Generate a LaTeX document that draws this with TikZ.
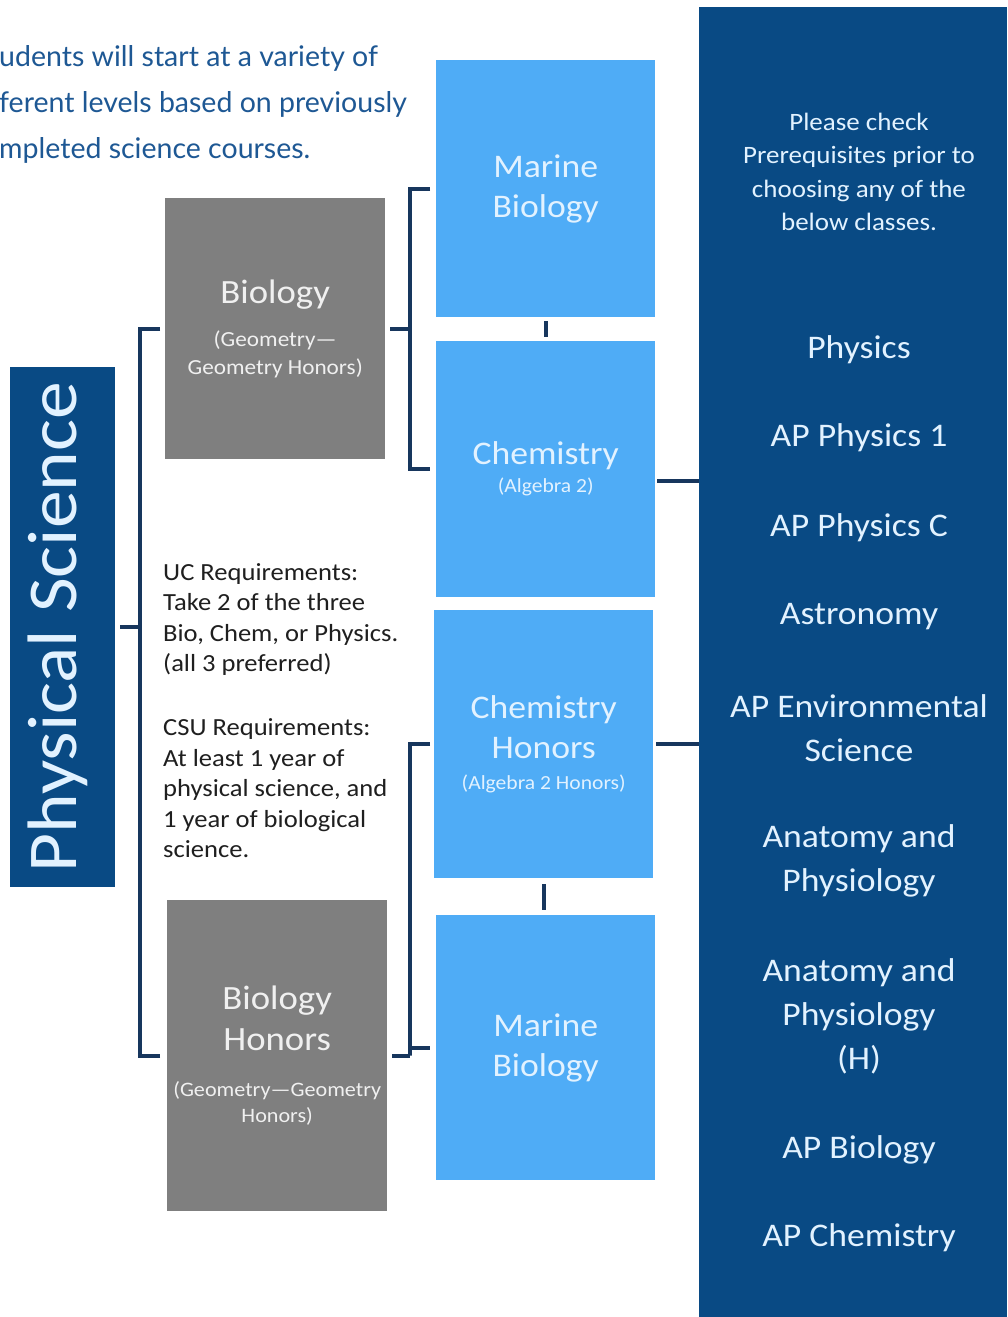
\documentclass[tikz,border=0pt]{standalone}
\usepackage{fontspec}
\setmainfont{Carlito}[FakeStretch=1.08]
\newfontfamily\latofont{Lato}
\definecolor{navyfill}{RGB}{9,74,132}
\definecolor{lblue}{RGB}{79,172,246}
\definecolor{gbox}{RGB}{127,127,127}
\definecolor{paletext}{RGB}{226,242,255}
\definecolor{graytext}{RGB}{240,240,240}
\definecolor{connc}{RGB}{23,54,93}
\definecolor{topblue}{RGB}{30,88,148}
\begin{document}
\begin{tikzpicture}[x=1pt,y=-1pt,
  lbox/.style={fill=lblue, draw=none, inner sep=0, anchor=north west, text=paletext, align=center},
  graybox/.style={fill=gbox, draw=none, inner sep=0, anchor=north west, text=graytext, align=center},
  navybox/.style={fill=navyfill, draw=none, inner sep=0, anchor=north west},
  conn/.style={draw=connc, line width=4pt},
  paneltxt/.style={text=paletext, inner sep=0, align=center, font=\fontsize{33}{44}\selectfont},
  big/.style={font=\fontsize{33}{40}\selectfont}
]
\useasboundingbox (0,0) rectangle (1007,1317);
\fill[white] (0,0) rectangle (1007,1317);

% intro text
\node[anchor=north west, inner sep=0, text=topblue, align=left,
  font=\latofont\fontsize{28.5}{46}\selectfont] (intro) at (-1,45)
  {udents will start at a variety of\\ferent levels based on previously\\mpleted science courses.};

% boxes
\node[navybox, minimum width=105pt, minimum height=520pt] (ps) at (10,367) {};
\node[rotate=90, text=paletext, inner sep=0, font=\fontsize{70}{70}\selectfont] (pstext) at (57.5,627) {Physical Science};

\node[graybox, minimum width=220pt, minimum height=261pt,
  font=\fontsize{21.5}{28}\selectfont] (bio) at (165,198)
  {{\fontsize{34}{34}\selectfont Biology}\\[15pt](Geometry—\\Geometry Honors)};
\node[graybox, minimum width=220pt, minimum height=311pt,
  font=\fontsize{20.5}{26}\selectfont] (bioh) at (167,900)
  {{\fontsize{34}{34}\selectfont Biology}\\[13pt]{\fontsize{34}{34}\selectfont Honors}\\[20pt](Geometry—Geometry\\Honors)};

\node[lbox, big, minimum width=219pt, minimum height=257pt] (mb1) at (436,60) {Marine\\Biology};
\node[lbox, minimum width=219pt, minimum height=256pt,
  font=\fontsize{20}{28}\selectfont] (chem) at (436,341)
  {{\fontsize{33}{33}\selectfont Chemistry}\\(Algebra 2)};
\node[lbox, minimum width=219pt, minimum height=268pt,
  font=\fontsize{20}{31}\selectfont] (chh) at (434,610)
  {{\fontsize{33}{33}\selectfont Chemistry}\\[9pt]{\fontsize{33}{33}\selectfont Honors}\\(Algebra 2 Honors)};
\node[lbox, big, minimum width=219pt, minimum height=265pt] (mb2) at (436,915) {Marine\\Biology};

% requirements text
\node[anchor=north west, inner sep=0, align=left, text=black!88,
  font=\fontsize{24.6}{30.6}\selectfont] (req) at (163,563)
  {UC Requirements:\\Take 2 of the three\\Bio, Chem, or Physics.\\(all 3 preferred)\\[33pt]
   CSU Requirements:\\At least 1 year of\\physical science, and\\1 year of biological\\science.};

% right panel
\node[navybox, minimum width=308pt, minimum height=1310pt] (panel) at (699,7) {};
\node[paneltxt, font=\fontsize{25}{33.5}\selectfont] (note) at (859,172)
  {Please check\\Prerequisites prior to\\choosing any of the\\below classes.};
\node[paneltxt] (p1) at (859,350) {Physics};
\node[paneltxt] (p2) at (859,438) {AP Physics 1};
\node[paneltxt] (p3) at (859,528) {AP Physics C};
\node[paneltxt] (p4) at (859,617) {Astronomy};
\node[paneltxt] (p5) at (859,728) {AP Environmental\\Science};
\node[paneltxt] (p6) at (859,861) {Anatomy and\\Physiology};
\node[paneltxt] (p7) at (859,1016) {Anatomy and\\Physiology\\(H)};
\node[paneltxt] (p8) at (859,1150) {AP Biology};
\node[paneltxt] (p9) at (859,1238) {AP Chemistry};

% left bracket
\draw[conn] ([xshift=-5pt]bio.west) -- ([xshift=-25pt]bio.west) |- ([xshift=5pt]ps.east);
\draw[conn] ([xshift=-7pt]bioh.west) -- ([xshift=-27pt]bioh.west) |- ([xshift=5pt]ps.east);

% upper bracket
\draw[conn] ([xshift=5pt]bio.east) -- ([xshift=25pt]bio.east);
\draw[conn] ([xshift=-6pt]mb1.west) -| ([xshift=25pt]bio.east) |- ([xshift=-6pt]chem.west);

% lower bracket
\coordinate (lbk) at ([xshift=23pt]bioh.east);
\draw[conn] ([xshift=5pt]bioh.east) -- (lbk);
\draw[conn] ([xshift=-4pt]chh.west) -| (lbk) -- (lbk |- mb2.west) -- ([xshift=-6pt]mb2.west);

% ticks
\draw[conn] ([yshift=-4pt]mb1.south) -- ([yshift=4pt]chem.north);
\draw[conn] ([yshift=-6pt]chh.south) -- ([yshift=5pt]chh.south |- mb2.north);

% to panel
\coordinate (c1) at ([xshift=2pt,yshift=-12pt]chem.east);
\draw[conn] (c1) -- (c1 -| panel.west);
\coordinate (c2) at ([xshift=3pt]chh.east);
\draw[conn] (c2) -- (c2 -| panel.west);
\end{tikzpicture}
\end{document}
